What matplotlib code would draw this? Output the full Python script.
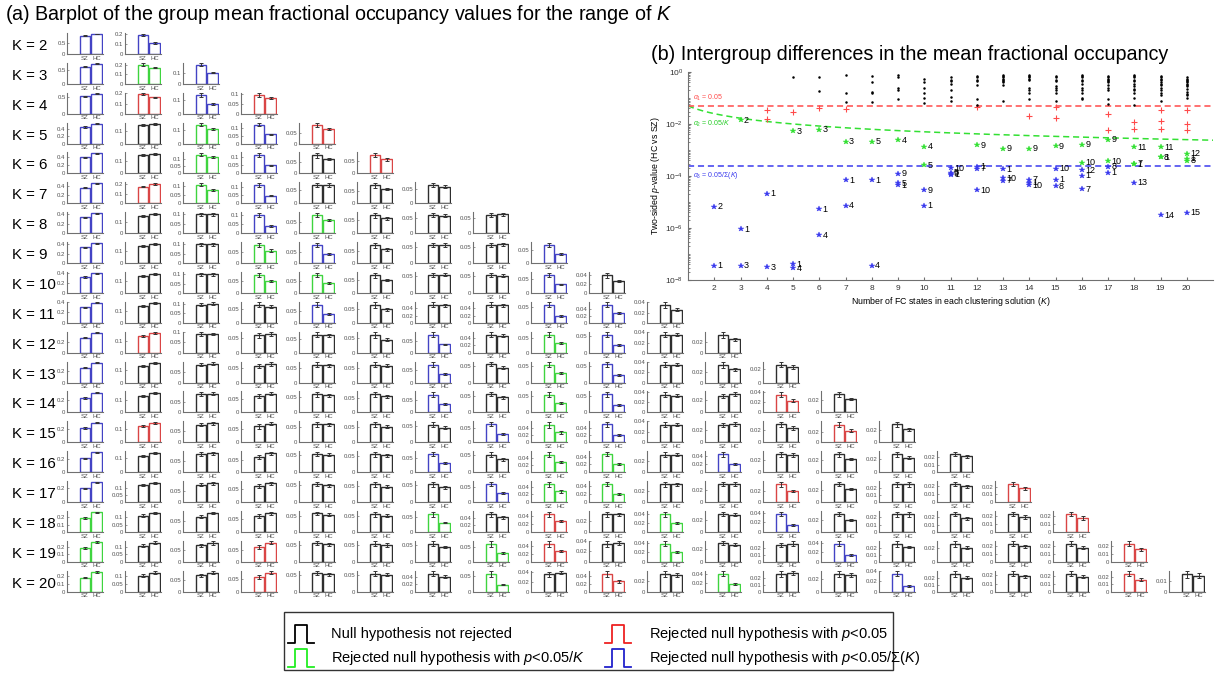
import matplotlib
matplotlib.use('Agg')
import matplotlib.pyplot as plt
from matplotlib.ticker import MaxNLocator, FormatStrFormatter, LogLocator, NullFormatter, FixedLocator
from matplotlib.lines import Line2D
from matplotlib.patches import Rectangle
import numpy as np

plt.rcParams['font.family'] = ['Liberation Sans', 'DejaVu Sans']
plt.rcParams['mathtext.fontset'] = 'custom'
plt.rcParams['mathtext.rm'] = 'Liberation Sans'
plt.rcParams['mathtext.it'] = 'Liberation Sans:italic'
plt.rcParams['mathtext.bf'] = 'Liberation Sans:bold'

# ---------------- data ----------------
K_VALUES = list(range(2, 21))
GROUPS = ['SZ', 'HC']

SZ_MEAN = [
    [0.81, 0.19],
    [0.60, 0.20, 0.17],
    [0.52, 0.19, 0.135, 0.095],
    [0.44, 0.15, 0.14, 0.12, 0.085],
    [0.40, 0.14, 0.13, 0.115, 0.08, 0.075],
    [0.36, 0.17, 0.11, 0.11, 0.07, 0.075, 0.065],
    [0.34, 0.15, 0.10, 0.10, 0.085, 0.07, 0.06, 0.06],
    [0.33, 0.14, 0.10, 0.08, 0.08, 0.072, 0.055, 0.055, 0.07],
    [0.32, 0.14, 0.10, 0.075, 0.075, 0.068, 0.055, 0.055, 0.064, 0.04],
    [0.30, 0.14, 0.095, 0.065, 0.078, 0.063, 0.05, 0.05, 0.058, 0.052, 0.035],
    [0.27, 0.14, 0.09, 0.06, 0.065, 0.06, 0.075, 0.048, 0.06, 0.055, 0.035, 0.033],
    [0.25, 0.13, 0.085, 0.058, 0.06, 0.062, 0.073, 0.055, 0.055, 0.055, 0.034, 0.033, 0.027],
    [0.23, 0.125, 0.085, 0.06, 0.06, 0.062, 0.07, 0.055, 0.055, 0.055, 0.035, 0.027, 0.035, 0.03],
    [0.22, 0.12, 0.08, 0.058, 0.058, 0.058, 0.055, 0.065, 0.05, 0.05, 0.034, 0.027, 0.03, 0.033, 0.029],
    [0.21, 0.12, 0.078, 0.06, 0.055, 0.055, 0.065, 0.052, 0.05, 0.047, 0.032, 0.043, 0.03, 0.03, 0.027, 0.024],
    [0.20, 0.12, 0.075, 0.06, 0.055, 0.055, 0.052, 0.06, 0.047, 0.045, 0.032, 0.03, 0.033, 0.03, 0.025, 0.023, 0.024],
    [0.19, 0.11, 0.073, 0.06, 0.057, 0.055, 0.06, 0.05, 0.045, 0.032, 0.04, 0.03, 0.038, 0.03, 0.024, 0.025, 0.023, 0.022],
    [0.18, 0.11, 0.073, 0.06, 0.055, 0.054, 0.052, 0.057, 0.045, 0.034, 0.038, 0.029, 0.024, 0.038, 0.025, 0.026, 0.023, 0.023, 0.023],
    [0.18, 0.10, 0.072, 0.057, 0.055, 0.053, 0.048, 0.055, 0.035, 0.045, 0.032, 0.04, 0.025, 0.027, 0.035, 0.025, 0.022, 0.023, 0.024, 0.016],
]

HC_MEAN = [
    [0.89, 0.11],
    [0.70, 0.17, 0.10],
    [0.60, 0.16, 0.07, 0.08],
    [0.53, 0.16, 0.11, 0.06, 0.065],
    [0.50, 0.15, 0.11, 0.05, 0.065, 0.057],
    [0.46, 0.20, 0.08, 0.045, 0.07, 0.06, 0.06],
    [0.42, 0.17, 0.10, 0.04, 0.06, 0.058, 0.058, 0.062],
    [0.42, 0.16, 0.10, 0.055, 0.04, 0.055, 0.055, 0.058, 0.035],
    [0.40, 0.16, 0.10, 0.05, 0.04, 0.05, 0.055, 0.052, 0.03, 0.027],
    [0.38, 0.16, 0.10, 0.058, 0.038, 0.048, 0.048, 0.048, 0.022, 0.028, 0.026],
    [0.36, 0.16, 0.09, 0.065, 0.062, 0.045, 0.035, 0.045, 0.033, 0.022, 0.035, 0.025],
    [0.33, 0.15, 0.09, 0.065, 0.058, 0.058, 0.035, 0.045, 0.03, 0.022, 0.034, 0.025, 0.024],
    [0.32, 0.15, 0.088, 0.068, 0.058, 0.055, 0.033, 0.045, 0.03, 0.022, 0.033, 0.03, 0.023, 0.022],
    [0.30, 0.14, 0.085, 0.068, 0.058, 0.05, 0.045, 0.03, 0.028, 0.021, 0.034, 0.029, 0.024, 0.022, 0.021],
    [0.30, 0.14, 0.082, 0.075, 0.052, 0.052, 0.032, 0.038, 0.028, 0.021, 0.032, 0.02, 0.029, 0.022, 0.022, 0.021],
    [0.29, 0.135, 0.082, 0.07, 0.05, 0.048, 0.043, 0.03, 0.028, 0.02, 0.032, 0.03, 0.02, 0.022, 0.025, 0.02, 0.018],
    [0.27, 0.13, 0.09, 0.07, 0.053, 0.05, 0.032, 0.042, 0.028, 0.032, 0.02, 0.029, 0.014, 0.02, 0.024, 0.019, 0.019, 0.017],
    [0.26, 0.13, 0.083, 0.078, 0.052, 0.05, 0.043, 0.03, 0.027, 0.036, 0.02, 0.027, 0.026, 0.014, 0.021, 0.021, 0.02, 0.018, 0.016],
    [0.25, 0.12, 0.083, 0.072, 0.052, 0.05, 0.04, 0.022, 0.038, 0.026, 0.03, 0.017, 0.026, 0.026, 0.012, 0.02, 0.019, 0.019, 0.016, 0.015],
]

SZ_ERR = [
    [0.015, 0.012],
    [0.015, 0.012, 0.012],
    [0.015, 0.010, 0.012, 0.008],
    [0.015, 0.008, 0.010, 0.010, 0.008],
    [0.015, 0.008, 0.010, 0.012, 0.010, 0.007],
    [0.012, 0.008, 0.010, 0.012, 0.008, 0.010, 0.008],
    [0.012, 0.008, 0.008, 0.012, 0.010, 0.010, 0.007, 0.006],
    [0.012, 0.008, 0.008, 0.010, 0.010, 0.010, 0.007, 0.006, 0.008],
    [0.012, 0.008, 0.008, 0.010, 0.010, 0.010, 0.006, 0.006, 0.008, 0.006],
    [0.012, 0.008, 0.008, 0.008, 0.010, 0.010, 0.006, 0.006, 0.008, 0.006, 0.005],
    [0.012, 0.008, 0.008, 0.008, 0.008, 0.010, 0.010, 0.006, 0.008, 0.007, 0.005, 0.005],
    [0.012, 0.008, 0.008, 0.008, 0.008, 0.008, 0.010, 0.006, 0.008, 0.007, 0.005, 0.005, 0.004],
    [0.012, 0.008, 0.008, 0.008, 0.008, 0.008, 0.010, 0.006, 0.008, 0.007, 0.005, 0.003, 0.005, 0.004],
    [0.012, 0.008, 0.008, 0.008, 0.008, 0.008, 0.008, 0.008, 0.008, 0.007, 0.005, 0.003, 0.004, 0.005, 0.004],
    [0.012, 0.008, 0.008, 0.008, 0.006, 0.008, 0.008, 0.008, 0.008, 0.006, 0.005, 0.006, 0.004, 0.004, 0.004, 0.003],
    [0.010, 0.008, 0.006, 0.008, 0.006, 0.008, 0.008, 0.008, 0.007, 0.006, 0.005, 0.004, 0.005, 0.004, 0.004, 0.003, 0.003],
    [0.012, 0.008, 0.006, 0.008, 0.006, 0.008, 0.010, 0.008, 0.007, 0.005, 0.006, 0.004, 0.005, 0.004, 0.004, 0.003, 0.003, 0.003],
    [0.010, 0.008, 0.006, 0.008, 0.006, 0.007, 0.007, 0.010, 0.007, 0.005, 0.005, 0.003, 0.003, 0.005, 0.004, 0.004, 0.003, 0.003, 0.003],
    [0.012, 0.008, 0.006, 0.008, 0.006, 0.007, 0.006, 0.009, 0.005, 0.007, 0.005, 0.005, 0.004, 0.004, 0.005, 0.004, 0.003, 0.003, 0.003, 0.003],
]

HC_ERR = [
    [0.010, 0.008],
    [0.010, 0.008, 0.006],
    [0.010, 0.008, 0.004, 0.006],
    [0.010, 0.008, 0.008, 0.004, 0.005],
    [0.010, 0.008, 0.007, 0.004, 0.005, 0.005],
    [0.010, 0.008, 0.007, 0.004, 0.006, 0.005, 0.005],
    [0.010, 0.008, 0.008, 0.004, 0.005, 0.005, 0.005, 0.005],
    [0.010, 0.008, 0.008, 0.006, 0.004, 0.005, 0.005, 0.005, 0.004],
    [0.010, 0.008, 0.008, 0.006, 0.004, 0.005, 0.005, 0.004, 0.003, 0.003],
    [0.010, 0.008, 0.007, 0.006, 0.003, 0.005, 0.005, 0.004, 0.002, 0.003, 0.003],
    [0.010, 0.008, 0.007, 0.006, 0.006, 0.005, 0.003, 0.004, 0.003, 0.003, 0.003, 0.003],
    [0.010, 0.008, 0.007, 0.006, 0.005, 0.005, 0.003, 0.004, 0.003, 0.003, 0.003, 0.003, 0.003],
    [0.010, 0.008, 0.007, 0.006, 0.005, 0.005, 0.003, 0.004, 0.003, 0.003, 0.003, 0.003, 0.003, 0.002],
    [0.010, 0.008, 0.007, 0.006, 0.005, 0.005, 0.004, 0.003, 0.003, 0.002, 0.003, 0.003, 0.003, 0.002, 0.002],
    [0.010, 0.008, 0.007, 0.006, 0.005, 0.005, 0.003, 0.004, 0.003, 0.002, 0.003, 0.002, 0.003, 0.002, 0.002, 0.002],
    [0.010, 0.008, 0.007, 0.006, 0.005, 0.005, 0.004, 0.003, 0.003, 0.002, 0.003, 0.003, 0.002, 0.002, 0.003, 0.002, 0.002],
    [0.010, 0.008, 0.007, 0.006, 0.005, 0.005, 0.003, 0.004, 0.003, 0.003, 0.002, 0.003, 0.002, 0.002, 0.003, 0.002, 0.002, 0.002],
    [0.010, 0.008, 0.007, 0.006, 0.005, 0.005, 0.004, 0.003, 0.003, 0.003, 0.002, 0.003, 0.003, 0.002, 0.002, 0.002, 0.002, 0.002, 0.002],
    [0.010, 0.008, 0.007, 0.006, 0.005, 0.005, 0.004, 0.002, 0.003, 0.003, 0.003, 0.002, 0.003, 0.003, 0.002, 0.002, 0.002, 0.002, 0.002, 0.002],
]

# log10 of two-sided p-values (HC vs SZ), one per FC state, for each K
LOG_P = [
    [-7.45, -5.19],
    [-6.05, -1.85, -7.45],
    [-4.69, -1.48, -7.5, -1.82],
    [-7.4, -0.2, -2.27, -7.55, -1.55],
    [-5.28, -0.72, -2.23, -6.27, -0.2, -1.39],
    [-4.17, -1.42, -2.69, -5.15, -0.12, -0.79, -1.15],
    [-4.17, -0.75, -0.15, -7.45, -2.69, -1.15, -0.8, -0.4],
    [-4.36, -0.1, -0.6, -2.63, -4.27, -0.7, -0.2, -1.05, -3.91],
    [-5.15, -0.25, -0.8, -2.88, -3.58, -1.0, -0.4, -1.2, -4.55, -0.6],
    [-3.95, -0.3, -0.45, -0.95, -3.88, -1.1, -0.35, -0.7, -3.92, -3.7, -0.2],
    [-3.64, -1.33, -0.15, -0.3, -0.5, -0.2, -3.73, -1.03, -2.81, -4.55, -0.35, -1.28],
    [-3.74, -0.15, -0.25, -0.3, -0.1, -0.4, -4.19, -0.2, -2.95, -4.08, -1.1, -0.35, -0.5],
    [-4.26, -0.2, -0.6, -0.15, -0.3, -0.7, -4.14, -0.8, -2.95, -4.36, -1.05, -0.25, -1.70, -0.1],
    [-4.14, -1.76, -0.15, -0.3, -0.55, -0.6, -0.7, -4.4, -2.85, -3.73, -1.1, -0.2, -0.8, -1.35, -0.35],
    [-4.0, -0.3, -0.2, -0.45, -0.8, -0.6, -4.51, -1.05, -2.79, -3.49, -0.15, -3.77, -1.0, -0.35, -0.7, -0.1],
    [-3.87, -0.2, -0.3, -0.4, -0.5, -0.6, -0.7, -3.65, -2.6, -3.44, -1.05, -0.25, -1.61, -0.15, -0.35, -1.22, -2.24],
    [-3.55, -0.2, -0.3, -0.45, -0.55, -0.65, -3.53, -0.1, -1.94, -0.8, -2.9, -0.35, -4.26, -0.15, -1.0, -0.7, -1.25, -2.18],
    [-3.27, -0.25, -0.4, -1.45, -0.5, -0.6, -0.3, -3.27, -1.88, -0.7, -2.9, -0.8, -0.2, -5.5, -0.45, -0.9, -1.1, -0.15, -2.18],
    [-3.33, -0.3, -0.45, -1.45, -0.55, -0.65, -0.25, -3.42, -0.75, -2.0, -0.9, -3.14, -0.4, -0.2, -5.42, -0.5, -0.85, -1.0, -2.24, -0.35],
]

ALPHA1 = 0.05
N_TOTAL = sum(K_VALUES)  # Sigma(K) = 209

LEGEND_LABELS = ['Null hypothesis not rejected',
                 'Rejected null hypothesis with $p$<0.05',
                 'Rejected null hypothesis with $p$<0.05/$K$',
                 'Rejected null hypothesis with $p$<0.05/\u03a3($K$)']

# ---------------- styling ----------------
BAR_COL = {'black': '#2e2e2e', 'red': '#d94545', 'green': '#3fd43f', 'blue': '#4343c4'}
PT_COL = {'black': '#000000', 'red': '#ff4a4a', 'green': '#33e033', 'blue': '#3a3aee'}
LEG_COL = {'black': '#000000', 'red': '#ee2222', 'green': '#22ee22', 'blue': '#2222cc'}
AX_GRAY = '#707070'
TXT_GRAY = '#505050'


def category(K, logp):
    p = 10 ** logp
    if p < ALPHA1 / N_TOTAL:
        return 'blue'
    if p < ALPHA1 / K:
        return 'green'
    if p < ALPHA1:
        return 'red'
    return 'black'


W, H = 1218, 673
fig = plt.figure(figsize=(W / 100, H / 100), dpi=100)


def px_axes(x0, y_top, w, h):
    return fig.add_axes([x0 / W, 1 - (y_top + h) / H, w / W, h / H])


# ---------------- panel (a) ----------------
fig.text(5 / W, 1 - 14 / H,
         '(a) Barplot of the group mean fractional occupancy values for the range of $K$',
         fontsize=14.2, va='center', ha='left')

AX_W, AX_H = 36, 21
for ki, K in enumerate(K_VALUES):
    y_bottom = 54 + 29.87 * ki
    fig.text(12 / W, 1 - (y_bottom - 8) / H, f'K = {K}', fontsize=10.8, va='center', ha='left')
    for j in range(K):
        x0 = 67 + 58 * j
        ax = px_axes(x0, y_bottom - AX_H, AX_W, AX_H)
        c = BAR_COL[category(K, LOG_P[ki][j])]
        means = [SZ_MEAN[ki][j], HC_MEAN[ki][j]]
        errs = [SZ_ERR[ki][j], HC_ERR[ki][j]]
        ax.bar([1, 2], means, width=0.85, color='white', edgecolor=c, linewidth=1.0, zorder=2)
        ax.errorbar([1, 2], means, yerr=errs, fmt='none', ecolor='#333333',
                    elinewidth=0.7, capsize=1.5, capthick=0.7, zorder=3)
        ax.set_xlim(-0.5, 2.55)
        top = max(m + e for m, e in zip(means, errs)) * 1.03
        ax.set_ylim(0, top)
        ax.yaxis.set_major_locator(MaxNLocator(nbins=3, steps=[1, 2, 5, 10]))
        ax.yaxis.set_major_formatter(FormatStrFormatter('%g'))
        ax.set_xticks([1, 2])
        ax.set_xticklabels(GROUPS)
        ax.tick_params(axis='x', length=0, labelsize=4.3, pad=1.2, labelcolor=TXT_GRAY)
        ax.tick_params(axis='y', direction='in', length=1.5, width=0.5, labelsize=4.3,
                       pad=1, labelcolor=TXT_GRAY, color=AX_GRAY)
        for s in ('top', 'right'):
            ax.spines[s].set_visible(False)
        for s in ('left', 'bottom'):
            ax.spines[s].set_color(AX_GRAY)
            ax.spines[s].set_linewidth(0.8)
        ax.patch.set_alpha(0)

# ---------------- panel (b) ----------------
fig.text(651 / W, 1 - 55 / H, '(b) Intergroup differences in the mean fractional occupancy',
         fontsize=14.2, va='center', ha='left')
axb = px_axes(688, 72, 525, 208)
axb.set_yscale('log')
axb.set_xlim(1, 21)
axb.set_ylim(1e-8, 1)
kk = np.linspace(1, 21, 300)
axb.plot(kk, ALPHA1 / kk, '--', color=PT_COL['green'], lw=1.1, dashes=(4, 2.5))
axb.axhline(ALPHA1, ls='--', color=PT_COL['red'], lw=1.1, dashes=(4, 2.5))
axb.axhline(ALPHA1 / N_TOTAL, ls='--', color=PT_COL['blue'], lw=1.1, dashes=(4, 2.5))
axb.text(1.2, ALPHA1 * 1.3, r'$\alpha_1$ = 0.05', color=PT_COL['red'], fontsize=5, va='bottom')
axb.text(1.2, 0.0105, r'$\alpha_2$ = 0.05/$K$', color='#22cc22', fontsize=5, va='center')
axb.text(1.2, ALPHA1 / N_TOTAL / 1.35, r'$\alpha_3$ = 0.05/$\Sigma$($K$)', color=PT_COL['blue'],
         fontsize=5, va='top')

for ki, K in enumerate(K_VALUES):
    for j, lp in enumerate(LOG_P[ki]):
        p = 10 ** lp
        cat = category(K, lp)
        if cat == 'black':
            axb.plot(K, p, '.', color='black', ms=1.6)
        elif cat == 'red':
            axb.plot(K, p, '+', color=PT_COL['red'], ms=5, mew=0.8)
        else:
            axb.plot(K, p, '*', color=PT_COL[cat], ms=4, mew=0.3)
            axb.annotate(str(j + 1), (K, p), xytext=(2.5, 0), textcoords='offset points',
                         fontsize=6.5, va='center', ha='left', color='black')

axb.set_xticks(K_VALUES)
axb.yaxis.set_major_locator(FixedLocator([1e-8, 1e-6, 1e-4, 1e-2, 1]))
axb.yaxis.set_minor_locator(LogLocator(base=10, subs=np.arange(1, 10), numticks=20))
axb.yaxis.set_minor_formatter(NullFormatter())
axb.tick_params(axis='both', which='both', direction='in', color=AX_GRAY, labelsize=6,
                labelcolor='#333333')
axb.tick_params(axis='y', which='minor', length=1.5)
axb.tick_params(axis='both', which='major', length=2.5)
for s in ('top', 'right'):
    axb.spines[s].set_visible(False)
for s in ('left', 'bottom'):
    axb.spines[s].set_color(AX_GRAY)
    axb.spines[s].set_linewidth(0.8)
axb.set_ylabel('Two-sided $p$-value (HC vs SZ)', fontsize=6.3, labelpad=2)
axb.set_xlabel('Number of FC states in each clustering solution ($K$)', fontsize=6.3, labelpad=2)

# ---------------- legend ----------------
fig.add_artist(Rectangle((284 / W, 1 - 670 / H), (893 - 284) / W, (670 - 612) / H,
                         transform=fig.transFigure, fill=False, edgecolor='#333333', lw=1.0))


def bar_icon(xc, yc, color):
    xs = [xc - 13, xc - 6, xc - 6, xc + 6, xc + 6, xc + 13]
    ys = [yc + 9, yc + 9, yc - 9, yc - 9, yc + 9, yc + 9]
    fig.add_artist(Line2D([x / W for x in xs], [1 - y / H for y in ys],
                          transform=fig.transFigure, color=color, lw=1.3))


entries = [('black', 301, 634, 331), ('red', 618, 634, 649),
           ('green', 301, 658, 331), ('blue', 618, 658, 649)]
for (cat, xi, yi, xt), lab in zip(entries, LEGEND_LABELS):
    bar_icon(xi, yi, LEG_COL[cat])
    fig.text(xt / W, 1 - yi / H, lab, fontsize=10.5, va='center', ha='left')

fig.savefig('out.png', dpi=100, facecolor='white')
